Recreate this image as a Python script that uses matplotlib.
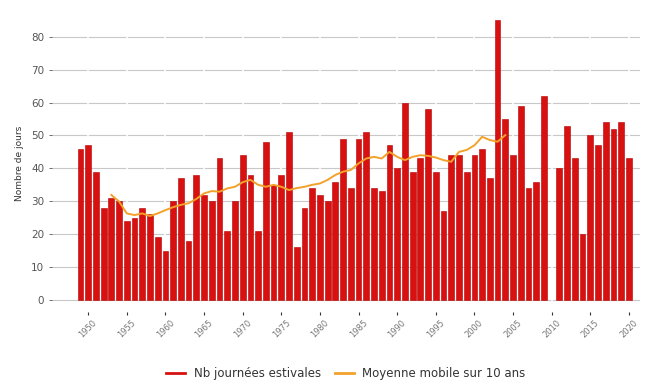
import numpy as np
import matplotlib
matplotlib.use("Agg")
import matplotlib.pyplot as plt
from matplotlib.lines import Line2D

# Nombre de journées estivales par an (2010 manquant)
years = list(range(1949, 2021))
summer_days = [
    46, 47, 39, 28, 31, 30, 24, 25, 28, 26,   # 1949-1958
    19, 15, 30, 37, 18, 38, 32, 30, 43, 21,   # 1959-1968
    30, 44, 38, 21, 48, 35, 38, 51, 16, 28,   # 1969-1978
    34, 32, 30, 36, 49, 34, 49, 51, 34, 33,   # 1979-1988
    47, 40, 60, 39, 43, 58, 39, 27, 44, 44,   # 1989-1998
    39, 44, 46, 37, 85, 55, 44, 59, 34, 36,   # 1999-2008
    62, np.nan, 40, 53, 43, 20, 50, 47, 54, 52,  # 2009-2018
    54, 43,                                   # 2019-2020
]

# Moyenne mobile sur 10 ans
ma_years = list(range(1953, 2005))
ma_values = [
    31.9, 29.9, 26.3, 25.8, 26.3, 25.5, 26.3, 27.3, 28.2, 28.9,
    29.4, 30.7, 32.4, 33.1, 32.9, 33.9, 34.4, 35.8, 36.5, 35.0,
    34.4, 35.0, 34.4, 33.4, 34.0, 34.4, 35.0, 35.4, 36.5, 38.0,
    39.0, 39.5, 41.5, 43.0, 43.5, 43.0, 45.0, 43.5, 42.5, 43.5,
    44.0, 43.8, 43.3, 42.5, 42.0, 45.0, 45.6, 47.0, 49.6, 48.6,
    48.1, 50.1,
]

bar_color = "#d81010"
ma_color = "#f2a22a"

fig = plt.figure(figsize=(6.65, 3.87), dpi=100)
ax = fig.add_axes([0.078, 0.194, 0.884, 0.767])

ax.bar(years, summer_days, width=0.75, color=bar_color, edgecolor="#b30000",
       linewidth=0.4, zorder=2)
ax.plot(ma_years, ma_values, color=ma_color, linewidth=1.4, zorder=3)

ax.set_xlim(1945.3, 2021.4)
ax.set_ylim(-3.65, 86.6)
ax.set_yticks(range(0, 81, 10))
ax.set_xticks(range(1950, 2021, 5))

# grille horizontale grise, coupée par de fines lignes blanches aux années
ax.grid(axis="y", color="#c8c8c8", linewidth=0.8, zorder=0)
for yr in range(1950, 2021, 5):
    ax.axvline(yr, color="white", linewidth=1.2, zorder=1)
ax.set_axisbelow(True)

for side in ax.spines.values():
    side.set_visible(False)

ax.tick_params(axis="y", labelsize=7.5, labelcolor="#555555", color="#555555",
               length=2.5, width=0.6, pad=3)
ax.tick_params(axis="x", labelsize=6, labelcolor="#777777", color="#333333",
               length=2.5, width=0.8, pad=2)
for lbl in ax.get_xticklabels():
    lbl.set_rotation(45)
    lbl.set_ha("center")

ax.set_ylabel("Nombre de jours", fontsize=6.5, color="#333333", labelpad=5)

handles = [Line2D([], [], color=bar_color, linewidth=2),
           Line2D([], [], color=ma_color, linewidth=2)]
labels = ["Nb journées estivales", "Moyenne mobile sur 10 ans"]
leg = fig.legend(handles, labels, loc="lower center",
                 bbox_to_anchor=(0.52, -0.01), ncol=2, frameon=False,
                 fontsize=8.5, handlelength=1.6, columnspacing=1.2,
                 handletextpad=0.7)
for t in leg.get_texts():
    t.set_color("#333333")

fig.savefig("out.png", dpi=100)
